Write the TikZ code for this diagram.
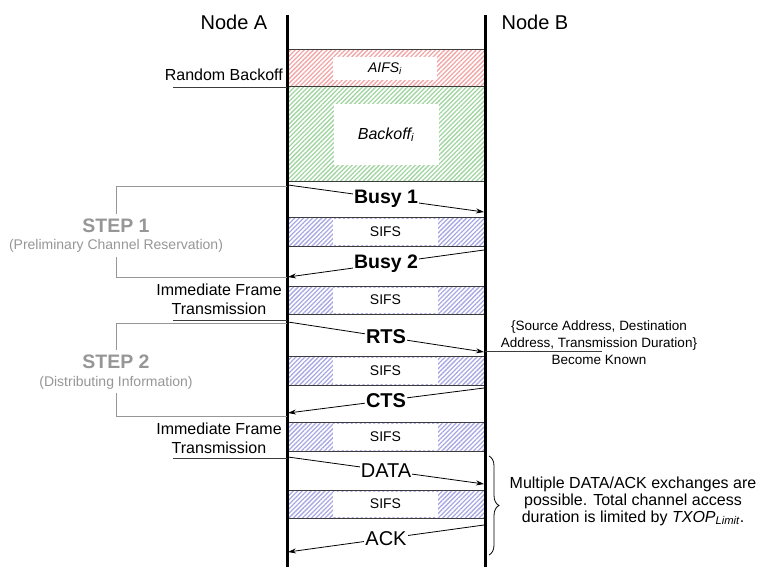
\documentclass[tikz,border=0pt]{standalone}
\usepackage{fontspec}
\setmainfont{Liberation Sans}
\usetikzlibrary{patterns.meta,arrows.meta,decorations.pathreplacing}
\definecolor{hred}{RGB}{242,165,165}
\definecolor{hgreen}{RGB}{160,212,160}
\definecolor{hblue}{RGB}{168,168,228}
\definecolor{stepgray}{RGB}{150,150,150}
\definecolor{boxline}{RGB}{60,60,60}
\newcommand{\fs}[1]{\fontsize{#1}{#1}\selectfont}
\tikzset{
  hatchbox/.style={draw=boxline,line width=1pt,pattern={Lines[angle=45,distance=3.2pt,line width=1.3pt]},pattern color=#1},
  whitebox/.style={fill=white,draw=none},
  lifeline/.style={line width=3pt,black},
  msg/.style={line width=0.8pt,-{Stealth[length=8pt,width=5pt]}},
  msglbl/.style={fill=white,inner sep=1pt},
  bracket/.style={draw=stepgray,line width=0.9pt},
  uline/.style={draw=boxline,line width=0.9pt},
  steptitle/.style={text=stepgray,font=\fs{19.5}\bfseries},
  stepsub/.style={text=stepgray,font=\fs{14}},
  ann/.style={font=\fs{16},align=center,inner sep=0pt},
}
\begin{document}
\begin{tikzpicture}[x=1pt,y=-1pt]
\useasboundingbox (0,0) rectangle (762,567);
% boxes
\draw[hatchbox=hred] (287,50) rectangle (485,87);
\fill[whitebox] (333,57) rectangle (437,80);
\node[font=\fs{14}\itshape] (aifs) at (385,68.5) {AIFS\textsubscript{i}};
\draw[hatchbox=hgreen] (287,87) rectangle (485,181);
\fill[whitebox] (334,104) rectangle (439,165);
\node[font=\fs{16}\itshape] (boff) at (386,134.5) {Backoff\textsubscript{i}};
\foreach \t/\b [count=\k] in {217/246,286/314,356/385,422/451,490/518}{
  \draw[hatchbox=hblue] (287,\t) rectangle (485,\b);
  \fill[whitebox] (333,\t+1.5) rectangle (438,\b-1.5);
  \node[font=\fs{14}] (sifs\k) at (385.5,{(\t+\b)/2}) {SIFS};
}
% lifelines
\coordinate (atop) at (287,15); \coordinate (abot) at (287,567);
\coordinate (btop) at (485,15); \coordinate (bbot) at (485,567);
\draw[lifeline] (atop) -- (abot);
\draw[lifeline] (btop) -- (bbot);
\node[font=\fs{20}] (nodeA) at (234,22) {Node A};
\node[font=\fs{20}] (nodeB) at (535,22) {Node B};
% message endpoints
\coordinate (b1s) at (288,185); \coordinate (b1e) at (484,212);
\coordinate (b2s) at (484,250); \coordinate (b2e) at (288,277);
\coordinate (rts) at (288,322); \coordinate (rte) at (484,352);
\coordinate (cts) at (484,388); \coordinate (cte) at (288,413);
\coordinate (dts) at (288,457); \coordinate (dte) at (484,484);
\coordinate (aks) at (484,525); \coordinate (ake) at (288,552);
\draw[msg] (b1s) -- node[msglbl,font=\fs{19.5}\bfseries] (busy1) {Busy 1} (b1e);
\draw[msg] (b2s) -- node[msglbl,font=\fs{19.5}\bfseries] (busy2) {Busy 2} (b2e);
\draw[msg] (rts) -- node[msglbl,font=\fs{20}\bfseries] (rtsl) {RTS} (rte);
\draw[msg] (cts) -- node[msglbl,font=\fs{20}\bfseries] (ctsl) {CTS} (cte);
\draw[msg] (dts) -- node[msglbl,font=\fs{20}] (datal) {DATA} (dte);
\draw[msg] (aks) -- node[msglbl,font=\fs{20}] (ackl) {ACK} (ake);
% left annotations
\node[anchor=east,font=\fs{16},inner sep=0pt] (rb) at (283,75) {Random Backoff};
\coordinate (rbl) at (173,87); \coordinate (rbr) at (287,87);
\draw[uline] (rbl) -- (rbr);
% step 1
\coordinate (s1a) at (287,186); \coordinate (s1b) at (116,186); \coordinate (s1c) at (116,214);
\coordinate (s1d) at (116,257); \coordinate (s1e) at (116,277); \coordinate (s1f) at (287,277);
\draw[bracket] (s1a) -- (s1b) -- (s1c);
\draw[bracket] (s1d) -- (s1e) -- (s1f);
\node[steptitle] (st1) at (116,226) {STEP 1};
\node[stepsub] (st1s) at (116,246) {(Preliminary Channel Reservation)};
\node[ann] (ift1) at (219,299) {Immediate Frame\\[3pt]Transmission};
\coordinate (if1l) at (173,320); \coordinate (if1r) at (287,320);
\draw[uline] (if1l) -- (if1r);
% step 2
\coordinate (s2a) at (287,323); \coordinate (s2b) at (116,323); \coordinate (s2c) at (116,350);
\coordinate (s2d) at (116,393); \coordinate (s2e) at (116,416); \coordinate (s2f) at (287,416);
\draw[bracket] (s2a) -- (s2b) -- (s2c);
\draw[bracket] (s2d) -- (s2e) -- (s2f);
\node[steptitle] (st2) at (116,362) {STEP 2};
\node[stepsub] (st2s) at (116,383) {(Distributing Information)};
\node[ann] (ift2) at (219,438.5) {Immediate Frame\\[3pt]Transmission};
\coordinate (if2l) at (173,458); \coordinate (if2r) at (287,458);
\draw[uline] (if2l) -- (if2r);
% right annotations
\node[font=\fs{13.5},align=center,inner sep=0pt] (known) at (599,342.5) {\{Source Address, Destination\\[3.5pt]Address, Transmission Duration\}\\[3.5pt]Become Known};
\coordinate (kl) at (485,351); \coordinate (kr) at (602,351);
\draw[uline] (kl) -- (kr);
\coordinate (brt) at (489,456); \coordinate (brb) at (489,555);
\draw[line width=0.8pt,decorate,decoration={brace,amplitude=10pt,aspect=0.5}] (brt) -- (brb);
\node[ann] (multi) at (633,501) {Multiple DATA/ACK exchanges are\\[1pt]possible. Total channel access\\[1pt]duration is limited by \textit{TXOP\textsubscript{Limit}}.};
\end{tikzpicture}
\end{document}
